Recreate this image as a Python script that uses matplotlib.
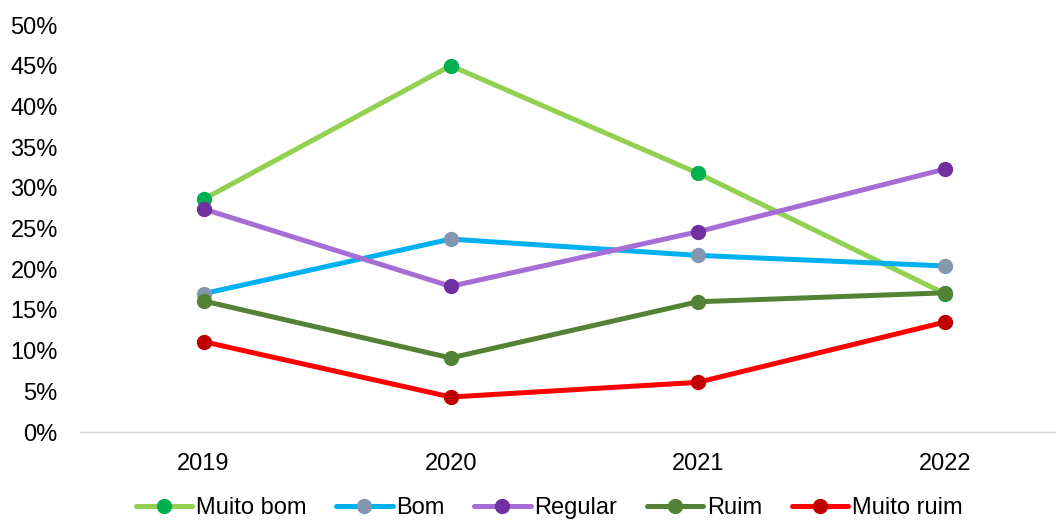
import numpy as np
import matplotlib.pyplot as plt

plt.rcParams['font.family'] = ['Liberation Sans', 'DejaVu Sans']

anos = ['2019', '2020', '2021', '2022']
muito_bom = [0.286, 0.450, 0.318, 0.170]
bom = [0.170, 0.237, 0.217, 0.204]
regular = [0.274, 0.179, 0.246, 0.323]
ruim = [0.161, 0.091, 0.160, 0.171]
muito_ruim = [0.111, 0.043, 0.061, 0.135]

series = [
    ('Muito bom', muito_bom, '#92D050', '#00B050'),
    ('Bom', bom, '#00B0F0', '#8497B0'),
    ('Regular', regular, '#A66DD4', '#7030A0'),
    ('Ruim', ruim, '#548235', '#548235'),
    ('Muito ruim', muito_ruim, '#FF0000', '#C00000'),
]

fig = plt.figure(figsize=(10.56, 5.21), dpi=100)
ax = fig.add_axes([0.0758, 0.1708, 0.9242, 0.7812])

x = np.arange(len(anos))
for nome, vals, cor, cor_mk in series:
    ax.plot(x, vals, color=cor, lw=3.6, marker='o', ms=10,
            markerfacecolor=cor_mk, markeredgecolor=cor_mk, label=nome,
            solid_capstyle='round', clip_on=False)

ax.set_xlim(-0.5, 3.45)
ax.set_ylim(0, 0.5)
ax.set_yticks(np.arange(0, 0.51, 0.05))
ax.set_yticklabels([f'{int(round(v * 100))}%' for v in np.arange(0, 0.51, 0.05)])
ax.set_xticks(x)
ax.set_xticklabels(anos)
ax.tick_params(length=0, labelsize=17, colors='#000000')
ax.tick_params(axis='x', pad=15)
ax.tick_params(axis='y', pad=16)

for s in ['top', 'right', 'left']:
    ax.spines[s].set_visible(False)
ax.spines['bottom'].set_color('#D9D9D9')
ax.spines['bottom'].set_linewidth(1)

# legend sits at the very bottom edge of the figure
fig.legend(loc='lower center', bbox_to_anchor=(0.52, 0.004), ncol=5, frameon=False,
           fontsize=17, handlelength=2.4, handletextpad=0.15, columnspacing=1.25,
           borderpad=0.0, borderaxespad=0.0)

fig.savefig('out.png', dpi=100)
